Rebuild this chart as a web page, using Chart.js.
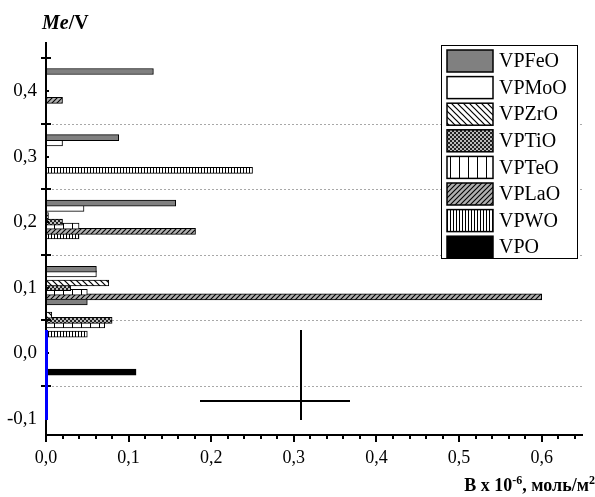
<!DOCTYPE html>
<html>
<head>
<meta charset="utf-8">
<script src="https://cdn.jsdelivr.net/npm/chart.js@4.4.0/dist/chart.umd.min.js"></script>
<style>
  html, body { margin: 0; padding: 0; background: #fff; overflow: hidden; }
  canvas { display: block; }
</style>
</head>
<body>
<canvas id="barChart" width="595" height="497"></canvas>
<script>
// series names (legend order)
const seriesNames = ['VPFeO', 'VPMoO', 'VPZrO', 'VPTiO', 'VPTeO', 'VPLaO', 'VPWO', 'VPO'];

// Me/V position of each bar, and B x 10^-6 value
const feoPos = [0.430, 0.329, 0.229, 0.128, 0.078];
const feoVal = [0.130, 0.088, 0.157, 0.061, 0.050];
const mooPos = [0.321, 0.221, 0.121];
const mooVal = [0.020, 0.046, 0.061];
const zroPos = [0.210, 0.107, 0.058];
const zroVal = [0.003, 0.076, 0.007];
const tioPos = [0.200, 0.100, 0.050];
const tioVal = [0.020, 0.030, 0.080];
const teoPos = [0.194, 0.093, 0.043];
const teoVal = [0.040, 0.050, 0.071];
const laoPos = [0.386, 0.186, 0.086];
const laoVal = [0.020, 0.181, 0.600];
const woPos = [0.279, 0.179, 0.029];
const woVal = [0.250, 0.040, 0.050];
const vpoPos = [-0.029];
const vpoVal = [0.109];

const serif = '"Liberation Serif", "Times New Roman", serif';

function makePattern(w, h, draw) {
  const c = document.createElement('canvas');
  c.width = w; c.height = h;
  const g = c.getContext('2d');
  draw(g, w, h);
  return g.createPattern(c, 'repeat');
}

const fills = [
  '#808080',
  '#ffffff',
  makePattern(6, 6, (g, w, h) => {
    g.fillStyle = '#fff'; g.fillRect(0, 0, w, h);
    g.strokeStyle = '#000'; g.lineWidth = 1.2;
    g.beginPath(); g.moveTo(-1, -1); g.lineTo(w + 1, h + 1);
    g.moveTo(-1, h - 1); g.lineTo(1, h + 1);
    g.moveTo(w - 1, -1); g.lineTo(w + 1, 1);
    g.stroke();
  }),
  makePattern(4, 4, (g) => {
    g.fillStyle = '#222'; g.fillRect(0, 0, 4, 4);
    g.fillStyle = '#bbb'; g.fillRect(0, 0, 2, 2); g.fillRect(2, 2, 2, 2);
  }),
  makePattern(9, 4, (g) => {
    g.fillStyle = '#fff'; g.fillRect(0, 0, 9, 4);
    g.fillStyle = '#000'; g.fillRect(0, 0, 1, 4);
  }),
  makePattern(5, 5, (g, w, h) => {
    g.fillStyle = '#b0b0b0'; g.fillRect(0, 0, w, h);
    g.strokeStyle = '#000'; g.lineWidth = 1.1;
    g.beginPath(); g.moveTo(-1, h + 1); g.lineTo(w + 1, -1);
    g.moveTo(-1, 1); g.lineTo(1, -1);
    g.moveTo(w - 1, h + 1); g.lineTo(w + 1, h - 1);
    g.stroke();
  }),
  makePattern(3, 4, (g) => {
    g.fillStyle = '#fff'; g.fillRect(0, 0, 3, 4);
    g.fillStyle = '#000'; g.fillRect(0, 0, 1, 4);
  }),
  '#000000'
];

const posList = [feoPos, mooPos, zroPos, tioPos, teoPos, laoPos, woPos, vpoPos];
const valList = [feoVal, mooVal, zroVal, tioVal, teoVal, laoVal, woVal, vpoVal];

const datasets = seriesNames.map((name, k) => ({
  label: name,
  data: posList[k].map((p, i) => ({ x: valList[k][i], y: p })),
  backgroundColor: fills[k],
  borderColor: '#000',
  borderWidth: 1,
  borderSkipped: false,
  barThickness: 6,
  grouped: false
}));

function fmt(v) {
  return (Math.round(v * 10) / 10).toFixed(1).replace('.', ',');
}
function isTenth(v) {
  return Math.abs(Math.round(v * 100)) % 10 === 0;
}

function drawAxes(chart) {
  const ctx = chart.ctx;
  const a = chart.chartArea;
  const xs = chart.scales.x, ys = chart.scales.y;
  const L = Math.round(a.left), B = Math.round(a.bottom), T = Math.round(a.top), R = Math.round(a.right);
  ctx.save();
  ctx.fillStyle = '#000';
  ctx.fillRect(L - 1, T, 2, B - T + 1);
  ctx.fillRect(L - 1, B - 1, R - L + 1, 2);
  [-0.05, 0.05, 0.15, 0.25, 0.35, 0.45].forEach(v => {
    const py = Math.round(ys.getPixelForValue(v));
    ctx.fillRect(L - 5, py - 1, 10, 2);
  });
  [0, 0.1, 0.2, 0.3, 0.4].forEach(v => {
    const py = Math.round(ys.getPixelForValue(v));
    ctx.fillRect(L - 1, py - 1, 4, 2);
  });
  for (let i = 0; i <= 32; i++) {
    const px = Math.round(xs.getPixelForValue(i * 0.02));
    const len = i % 5 === 0 ? 7 : 4;
    ctx.fillRect(px - 1, B, 2, len);
  }
  // control marks
  ctx.fillStyle = 'blue';
  ctx.fillRect(L - 1, 330, 3, 90);
  ctx.fillStyle = '#000';
  ctx.fillRect(300, 330, 2, 90);
  ctx.fillRect(200, 400, 150, 2);
  ctx.restore();
}

const decorPlugin = {
  id: 'decor',
  beforeDatasetsDraw(chart) {
    const { ctx, chartArea: a, scales: { y } } = chart;
    ctx.save();
    ctx.fillStyle = '#a8a8a8';
    [-0.05, 0.05, 0.15, 0.25, 0.35].forEach(v => {
      const py = Math.round(y.getPixelForValue(v));
      for (let px = a.left + 2; px < a.right; px += 4) ctx.fillRect(px, py, 2, 1);
    });
    ctx.restore();
  },
  afterDraw(chart) {
    const ctx = chart.ctx;
    drawAxes(chart);
    ctx.save();

    // legend
    const lx = 441.5, ly = 45.5, lw = 136, lh = 213;
    ctx.fillStyle = '#fff';
    ctx.fillRect(lx, ly, lw, lh);
    ctx.strokeStyle = '#000';
    ctx.lineWidth = 1;
    ctx.strokeRect(lx, ly, lw, lh);
    ctx.font = '20px ' + serif;
    ctx.textBaseline = 'middle';
    ctx.textAlign = 'left';
    seriesNames.forEach((name, k) => {
      const sy = 50 + k * 26.6;
      ctx.fillStyle = fills[k];
      ctx.fillRect(447, sy, 46, 22);
      ctx.lineWidth = 1.5;
      ctx.strokeStyle = '#000';
      ctx.strokeRect(447, sy, 46, 22);
      ctx.fillStyle = '#000';
      ctx.fillText(name, 499, sy + 12);
    });

    // axis titles
    ctx.textBaseline = 'alphabetic';
    ctx.fillStyle = '#000';
    ctx.font = 'italic bold 20px ' + serif;
    ctx.fillText('Me', 42, 29);
    const w = ctx.measureText('Me').width;
    ctx.font = 'bold 20px ' + serif;
    ctx.fillText('/V', 42 + w, 29);

    const parts = [
      ['B x 10', 'bold 18px ' + serif, 0],
      ['-6', 'bold 12px ' + serif, -7],
      [', моль/м', 'bold 18px ' + serif, 0],
      ['2', 'bold 12px ' + serif, -7]
    ];
    let total = 0;
    parts.forEach(p => { ctx.font = p[1]; total += ctx.measureText(p[0]).width; });
    let cx = 595 - total;
    parts.forEach(p => {
      ctx.font = p[1];
      ctx.fillText(p[0], cx, 491 + p[2]);
      cx += ctx.measureText(p[0]).width;
    });
    ctx.restore();
  }
};

new Chart(document.getElementById('barChart').getContext('2d'), {
  type: 'bar',
  data: { datasets },
  plugins: [decorPlugin],
  options: {
    indexAxis: 'y',
    responsive: false,
    animation: false,
    layout: { padding: { left: 0, top: 42, right: 12, bottom: 0 } },
    plugins: {
      legend: { display: false },
      tooltip: { enabled: false }
    },
    scales: {
      x: {
        type: 'linear',
        min: 0,
        max: 0.65,
        grid: { display: false, drawTicks: false },
        border: { display: false },
        afterFit: s => { s.height = 62; },
        ticks: {
          stepSize: 0.02,
          autoSkip: false,
          maxRotation: 0,
          padding: 12,
          color: '#000',
          font: { family: serif, size: 18 },
          callback: v => isTenth(v) ? fmt(v) : ''
        }
      },
      y: {
        type: 'linear',
        min: -0.1,
        max: 0.45,
        grid: { display: false, drawTicks: false },
        border: { display: false },
        afterFit: s => { s.width = 46; },
        ticks: {
          stepSize: 0.05,
          autoSkip: false,
          padding: 9,
          color: '#000',
          font: { family: serif, size: 19 },
          callback: v => (isTenth(v) && v < 0.44) ? fmt(v) : ''
        }
      }
    }
  }
});
</script>
</body>
</html>
